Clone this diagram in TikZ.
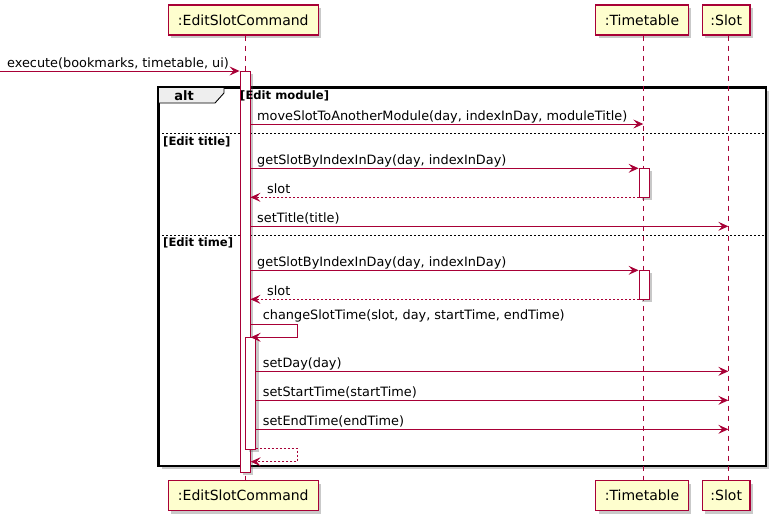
\documentclass[tikz,border=0pt]{standalone}
\usepackage{fontspec}
\setmainfont{DejaVu Sans}
\usetikzlibrary{arrows.meta,shadows}
\definecolor{pu}{HTML}{A80036}
\definecolor{pfill}{HTML}{FEFECE}
\definecolor{tabfill}{HTML}{EEEEEE}
\begin{document}
\begin{tikzpicture}[x=1pt,y=-1pt,
 shad/.style={drop shadow={shadow xshift=3pt,shadow yshift=-3pt,opacity=0.3,fill=black!70}},
 part/.style={draw=pu,fill=pfill,line width=1.2pt,minimum height=30pt,inner sep=0pt,font=\fontsize{14}{16}\selectfont,shad},
 life/.style={draw=pu,line width=0.9pt,dash pattern=on 5pt off 5pt},
 act/.style={draw=pu,fill=white,line width=0.9pt,minimum width=10pt,inner sep=0pt,shad},
 msg/.style={draw=pu,line width=0.9pt,-{Stealth[length=10pt,width=9pt,inset=4pt]}},
 ret/.style={msg,dash pattern=on 2pt off 2pt},
 lbl/.style={anchor=base west,inner sep=0pt,font=\fontsize{12.85}{15}\selectfont},
 guard/.style={anchor=base west,inner sep=0pt,font=\fontsize{11.6}{13}\selectfont\bfseries},
 sep/.style={draw=black,line width=0.9pt,dash pattern=on 2pt off 2pt}
]
\useasboundingbox (0,0) rectangle (777,523);

% frame
\node[draw=black,fill=white,line width=1.6pt,minimum width=607pt,minimum height=378pt,inner sep=0pt,anchor=north west,shad] (frame) at (158,87) {};
\coordinate (tabA) at (158,87);
\coordinate (tabB) at (224,87);
\coordinate (tabC) at (224,93);
\coordinate (tabD) at (215,103);
\coordinate (tabE) at (158,103);
\draw[fill=tabfill,line width=0.9pt] (tabA) -- (tabB) -- (tabC) -- (tabD) -- (tabE) -- cycle;
\draw[line width=1.6pt] (frame.north west) rectangle (frame.south east);
\node[anchor=base,inner sep=0pt,font=\fontsize{13}{15}\selectfont\bfseries] (alttxt) at (184,100) {alt};
\coordinate (s1a) at (158,133); \coordinate (s1b) at (765,133);
\draw[sep] (s1a) -- (s1b);
\coordinate (s2a) at (158,235); \coordinate (s2b) at (765,235);
\draw[sep] (s2a) -- (s2b);

% participants
\node[part,minimum width=150pt] (ect) at (243.3,20) {:EditSlotCommand};
\node[part,minimum width=92.6pt] (ttt) at (642,20) {:Timetable};
\node[part,minimum width=47.6pt] (slt) at (726.2,20) {:Slot};
\node[part,minimum width=150pt] (ecb) at (243.3,495.5) {:EditSlotCommand};
\node[part,minimum width=92.6pt] (ttb) at (642,495.5) {:Timetable};
\node[part,minimum width=47.6pt] (slb) at (726.2,495.5) {:Slot};

\coordinate (eX) at (245,0);
\coordinate (tX) at (643.3,0);
\coordinate (sX) at (728.3,0);
\draw[life] (ect.south -| eX) -- (ecb.north -| eX);
\draw[life] (ttt.south -| tX) -- (ttb.north -| tX);
\draw[life] (slt.south -| sX) -- (slb.north -| sX);

% activations
\node[act,minimum height=401pt] (ea) at (245,271.5) {};
\node[act,minimum height=29pt] (ta1) at (644,182.8) {};
\node[act,minimum height=29pt] (ta2) at (644,284.8) {};

% guards
\node[guard] (g1) at (240,99.5) {[Edit module]};
\node[guard] (g2) at (163,145.5) {[Edit title]};
\node[guard] (g3) at (163,246.5) {[Edit time]};

% execute
\coordinate (ex0) at (0,71);
\draw[msg] (ex0) -- (ex0 -| ea.west);
\node[lbl] (l0) at (7,67) {execute(bookmarks, timetable, ui)};

% edit module
\coordinate (m1) at (250,124);
\draw[msg] (m1) -- (m1 -| tX);
\node[lbl] (l1) at (257,120) {moveSlotToAnotherModule(day, indexInDay, moduleTitle)};

% edit title
\coordinate (m2) at (250,168.3);
\draw[msg] (m2) -- (m2 -| ta1.west);
\node[lbl] (l2) at (257,164.3) {getSlotByIndexInDay(day, indexInDay)};
\coordinate (m3) at (639,197.3);
\draw[ret] (m3) -- (m3 -| ea.east);
\node[lbl] (l3) at (267,193.3) {slot};
\coordinate (m4) at (250,226.3);
\draw[msg] (m4) -- (m4 -| sX);
\node[lbl] (l4) at (257,222.3) {setTitle(title)};

% edit time
\coordinate (m5) at (250,270.3);
\draw[msg] (m5) -- (m5 -| ta2.west);
\node[lbl] (l5) at (257,266.3) {getSlotByIndexInDay(day, indexInDay)};
\coordinate (m6) at (639,299.3);
\draw[ret] (m6) -- (m6 -| ea.east);
\node[lbl] (l6) at (267,295.3) {slot};

\node[act,minimum height=112pt] (na) at (250.7,393.3) {};

\coordinate (c1) at (250,324.3);
\coordinate (c2) at (297.3,324.3);
\coordinate (c3) at (297.3,337.3);
\coordinate (c4) at (250.7,337.3);
\draw[msg] (c1) -- (c2) -- (c3) -- (c4);
\node[lbl] (l7) at (262.7,319.5) {changeSlotTime(slot, day, startTime, endTime)};

\coordinate (m8) at (255.7,371.3);
\draw[msg] (m8) -- (m8 -| sX);
\node[lbl] (l8) at (262.7,367.3) {setDay(day)};
\coordinate (m9) at (255.7,400.3);
\draw[msg] (m9) -- (m9 -| sX);
\node[lbl] (l9) at (262.7,396.3) {setStartTime(startTime)};
\coordinate (m10) at (255.7,429.3);
\draw[msg] (m10) -- (m10 -| sX);
\node[lbl] (l10) at (262.7,425.3) {setEndTime(endTime)};

\coordinate (r1) at (255.7,448.3);
\coordinate (r2) at (297.3,448.3);
\coordinate (r3) at (297.3,461.7);
\coordinate (r4) at (250.7,461.7);
\draw[ret] (r1) -- (r2) -- (r3) -- (r4);
\end{tikzpicture}
\end{document}
